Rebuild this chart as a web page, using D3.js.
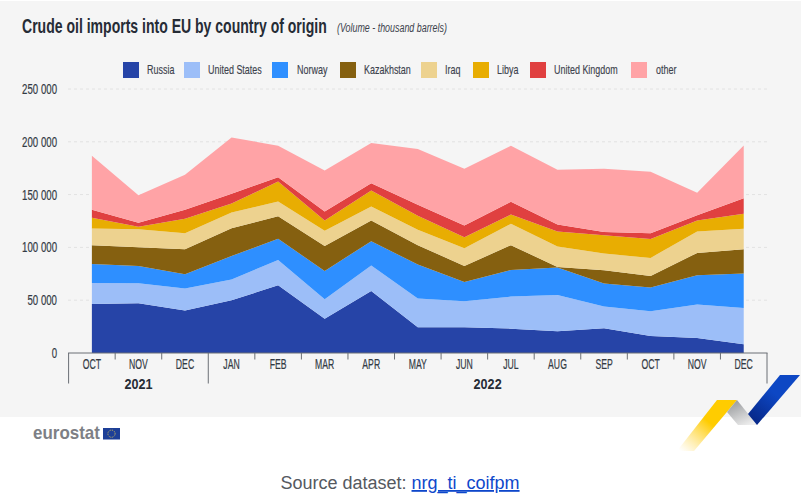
<!DOCTYPE html>
<html>
<head>
<meta charset="utf-8">
<style>
html, body { margin: 0; padding: 0; background: #fff; }
svg { display: block; }
text { font-family: "Liberation Sans", sans-serif; }
</style>
<script src="https://cdn.jsdelivr.net/npm/d3@7"></script>
</head>
<body>
<svg id="chart" width="801" height="495"></svg>
<script>
const months = ["OCT","NOV","DEC","JAN","FEB","MAR","APR","MAY","JUN","JUL","AUG","SEP","OCT","NOV","DEC"];
const yearGroups = [["2021", 0, 3], ["2022", 3, 15]];
const yTicks = [0, 50000, 100000, 150000, 200000, 250000];

const russia       = [46450,47080,40130,49930,64150,32550,58780,24330,24330,23070,20540,23380,16120,14220,8220];
const unitedStates = [19910,18960,20860,19590,24020,18330,24020,27180,24650,30340,34440,20540,23380,31600,34440];
const norway       = [18010,16430,13590,22440,19910,26860,23070,32230,18330,25280,25910,21800,22440,27810,32550];
const kazakhstan   = [17700,17700,23700,26230,21490,23700,19590,18330,15170,23380,630,12640,11060,21170,23070];
const iraq         = [15800,17060,15170,14850,13900,14220,13270,14540,16750,20220,19280,15800,17060,20220,19280];
const libya        = [10110,2210,13590,8530,18960,9800,15170,13270,10430,8850,14220,17380,18010,10430,14220];
const unitedKingdom= [7580,3790,8530,9160,4110,8530,6950,10430,11060,12010,6640,3160,5370,5060,14850];
const other        = [51190,26230,33180,53400,29700,38870,37920,52770,53720,53090,51820,59720,58140,21170,49930];

const seriesNames = ["Russia","United States","Norway","Kazakhstan","Iraq","Libya","United Kingdom","other"];
const seriesValues = [russia,unitedStates,norway,kazakhstan,iraq,libya,unitedKingdom,other];
const seriesColors = ["#2644a7","#9cbef8","#2e8fff","#856010","#edd28f","#e8ad02","#e04040","#ffa3a6"];

const svg = d3.select("#chart");
const ink = "#333a44";

// No condensed face is available, so labels are squeezed horizontally about their own anchor.
function condense(selection, ratio) {
  selection.each(function () {
    const el = d3.select(this);
    const ax = +el.attr("x") || 0;
    el.attr("transform", `translate(${ax * (1 - ratio)},0) scale(${ratio},1)`);
  });
}
function fitWidth(selection, width) {
  selection.each(function () {
    d3.select(this).call(condense, width / this.getComputedTextLength());
  });
}

// Grey panel behind the chart
svg.append("rect").attr("x", 0).attr("y", 1).attr("width", 801).attr("height", 416).attr("fill", "#f5f5f5");

const x = d3.scaleBand().domain(d3.range(months.length)).range([68.6, 767]);
const y = d3.scaleLinear().domain([0, 250000]).range([353, 89]);
const cx = i => x(i) + x.bandwidth() / 2;

// Title and unit note
svg.append("text").attr("x", 22).attr("y", 33).attr("fill", "#262c36")
  .attr("font-size", 20).attr("font-weight", 700)
  .text("Crude oil imports into EU by country of origin").call(fitWidth, 305);
svg.append("text").attr("x", 337).attr("y", 32).attr("fill", "#3c424c")
  .attr("font-style", "italic").attr("font-size", 12.5)
  .text("(Volume - thousand barrels)").call(fitWidth, 110);

// Value axis with dashed guide lines
const yAxis = d3.axisLeft(y).tickValues(yTicks).tickSize(0).tickPadding(0)
  .tickFormat(d => d3.format(",")(d).replace(/,/g, " "));
const yG = svg.append("g").attr("transform", "translate(57,0)").call(yAxis);
yG.select(".domain").remove();
yG.selectAll("text").attr("font-size", 14).attr("fill", ink)
  .attr("stroke", ink).attr("stroke-width", 0.2)
  .style("font-family", "'Liberation Sans', sans-serif").call(condense, 0.69);
svg.append("g").selectAll("line").data(yTicks.filter(d => d > 0)).join("line")
  .attr("x1", 68).attr("x2", 768)
  .attr("y1", d => y(d)).attr("y2", d => y(d))
  .attr("stroke", "#e2e2e2").attr("stroke-width", 1).attr("stroke-dasharray", "3 3");

// Stacked areas
const rows = months.map((m, i) => {
  const row = { index: i };
  seriesNames.forEach((n, s) => { row[n] = seriesValues[s][i]; });
  return row;
});
const stacked = d3.stack().keys(seriesNames)(rows);
const area = d3.area().x(d => cx(d.data.index)).y0(d => y(d[0])).y1(d => y(d[1]));
svg.append("g").selectAll("path").data(stacked).join("path")
  .attr("d", area).attr("fill", (d, i) => seriesColors[i]);

// Month axis with group separators
const axisColor = "#6b6f75";
const xAxis = d3.axisBottom(x).tickFormat(i => months[i]).tickSize(0).tickPadding(6);
const xG = svg.append("g").attr("transform", "translate(0,353)").call(xAxis);
xG.select(".domain").remove();
xG.selectAll("text").attr("font-size", 14).attr("fill", ink)
  .attr("stroke", ink).attr("stroke-width", 0.2)
  .style("font-family", "'Liberation Sans', sans-serif").call(condense, 0.62);
const edges = d3.range(months.length + 1).map(i => i < months.length ? x(i) : x.range()[1]);
const major = new Set([0, 3, months.length]);
svg.append("line").attr("x1", 68.1).attr("x2", 767.5).attr("y1", 353).attr("y2", 353)
  .attr("stroke", axisColor).attr("stroke-width", 1);
svg.append("g").selectAll("line").data(edges).join("line")
  .attr("x1", d => d).attr("x2", d => d).attr("y1", 353)
  .attr("y2", (d, i) => major.has(i) ? 383.5 : 359.5)
  .attr("stroke", axisColor).attr("stroke-width", 1);
svg.append("g").selectAll("text").data(yearGroups).join("text")
  .attr("x", d => (edges[d[1]] + edges[d[2]]) / 2).attr("y", 389)
  .attr("text-anchor", "middle").attr("font-size", 15).attr("font-weight", 700).attr("fill", "#262c36")
  .text(d => d[0]).call(condense, 0.84);

// Legend
const legendSwatchX = [123, 184, 272, 340, 421, 473, 530, 631];
const legendLabelX  = [147, 208, 297, 364, 445, 497, 554, 656];
const legend = svg.append("g");
legend.selectAll("rect").data(seriesNames).join("rect")
  .attr("x", (d, i) => legendSwatchX[i]).attr("y", 62).attr("width", 16).attr("height", 16)
  .attr("fill", (d, i) => seriesColors[i]);
legend.selectAll("text").data(seriesNames).join("text")
  .attr("x", (d, i) => legendLabelX[i]).attr("y", 74.5)
  .attr("font-size", 13).attr("fill", "#3c424c")
  .attr("stroke", "#3c424c").attr("stroke-width", 0.15)
  .text(d => d).call(condense, 0.69);

// Decorative ribbon, lower right
const defs = svg.append("defs");
const yellowFade = defs.append("linearGradient").attr("id", "ribbonYellow")
  .attr("x1", 0).attr("y1", 1).attr("x2", 1).attr("y2", 0);
yellowFade.append("stop").attr("offset", "0.03").attr("stop-color", "#ffd54a").attr("stop-opacity", 0);
yellowFade.append("stop").attr("offset", "0.55").attr("stop-color", "#ffcc00");
const greyFold = defs.append("linearGradient").attr("id", "ribbonGrey")
  .attr("x1", 0.25).attr("y1", 0.1).attr("x2", 0.75).attr("y2", 1);
greyFold.append("stop").attr("offset", "0").attr("stop-color", "#9fa1a3");
greyFold.append("stop").attr("offset", "1").attr("stop-color", "#eeeeee");
const blueFold = defs.append("linearGradient").attr("id", "ribbonBlue")
  .attr("x1", 0.15).attr("y1", 0.9).attr("x2", 0.55).attr("y2", 0.4);
blueFold.append("stop").attr("offset", "0").attr("stop-color", "#072a8c");
blueFold.append("stop").attr("offset", "1").attr("stop-color", "#0d47c4");
svg.append("path").attr("d", "M677 451 L717 400 L737 400 L694 451 Z").attr("fill", "url(#ribbonYellow)");
svg.append("path").attr("d", "M727 412 L737 400 L757 425 L738 425 Z").attr("fill", "url(#ribbonGrey)");
svg.append("path").attr("d", "M748 414 L780 375 L800 375 L757 425 Z").attr("fill", "url(#ribbonBlue)");

// Eurostat wordmark and flag
svg.append("text").attr("x", 33).attr("y", 439.5).attr("fill", "#7d7f85")
  .attr("font-weight", 700).attr("font-size", 17.5)
  .text("eurostat").call(fitWidth, 67);
svg.append("rect").attr("x", 103).attr("y", 428).attr("width", 17).attr("height", 11.5).attr("fill", "#1d3f97");
svg.append("circle").attr("cx", 111.5).attr("cy", 433.7).attr("r", 3.6)
  .attr("fill", "none").attr("stroke", "#e8cf50").attr("stroke-width", 0.8).attr("stroke-dasharray", "1 0.9");

// Source line
const source = svg.append("text").attr("x", 400).attr("y", 489).attr("text-anchor", "middle")
  .attr("font-size", 18).attr("fill", "#55595f");
source.append("tspan").text("Source dataset: ");
source.append("tspan").attr("fill", "#0e47cb").attr("text-decoration", "underline").text("nrg_ti_coifpm");
</script>
</body>
</html>
